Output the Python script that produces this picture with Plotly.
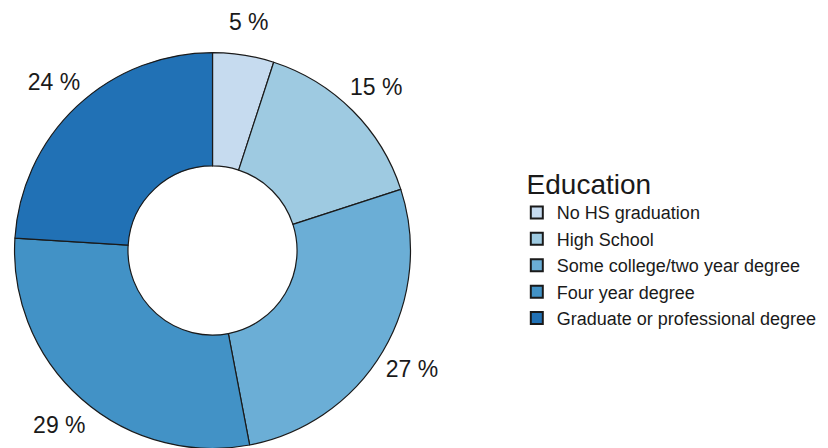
import numpy as np
import plotly.graph_objects as go

categories = ["No HS graduation", "High School", "Some college/two year degree",
              "Four year degree", "Graduate or professional degree"]
percent_values = [5, 15, 27, 29, 24]
slice_colors = ["#c6dbef", "#9ecae1", "#6baed6", "#4292c6", "#2171b5"]

FONT = "Liberation Sans, Arial, sans-serif"
W, H = 828, 448
DOMAIN_X = [0.0079, 0.4861]
DOMAIN_Y = [0.0167, 0.9007]
LABEL_RADIUS = 1.17   # label distance from centre, relative to outer radius
LABEL_DROP_PX = 3     # small downward nudge of the label frame

# donut
donut = go.Pie(
    labels=categories,
    values=percent_values,
    sort=False,
    direction="clockwise",
    rotation=0,
    hole=0.427,
    marker=dict(colors=slice_colors, line=dict(color="#1a1a1a", width=1.2)),
    textinfo="none",
    hoverinfo="label+percent",
    domain=dict(x=DOMAIN_X, y=DOMAIN_Y),
    showlegend=True,
)

# hidden cartesian frame whose unit equals the donut's outer radius, centred on the donut
cx = W * (DOMAIN_X[0] + DOMAIN_X[1]) / 2
cy_top = H * (1 - (DOMAIN_Y[0] + DOMAIN_Y[1]) / 2) + LABEL_DROP_PX
R = min(W * (DOMAIN_X[1] - DOMAIN_X[0]), H * (DOMAIN_Y[1] - DOMAIN_Y[0])) / 2
x_range = [-cx / R, (W - cx) / R]
y_range = [-(H - cy_top) / R, cy_top / R]

# percentage labels at each slice's mid-angle (clockwise from 12 o'clock)
vals = np.array(percent_values, dtype=float)
mid_angle = 2 * np.pi * (np.cumsum(vals) - vals / 2) / vals.sum()
labels_trace = go.Scatter(
    x=LABEL_RADIUS * np.sin(mid_angle),
    y=LABEL_RADIUS * np.cos(mid_angle),
    mode="text",
    text=[f"{v} %" for v in percent_values],
    textposition="middle center",
    textfont=dict(family=FONT, size=23, color="#1a1a1a"),
    cliponaxis=False,
    hoverinfo="skip",
    showlegend=False,
)

fig = go.Figure([donut, labels_trace])

fig.update_layout(
    width=W, height=H,
    margin=dict(l=0, r=0, t=0, b=0),
    paper_bgcolor="white",
    plot_bgcolor="rgba(0,0,0,0)",
    font=dict(family=FONT, color="#1a1a1a"),
    xaxis=dict(visible=False, range=x_range, domain=[0, 1], fixedrange=True),
    yaxis=dict(visible=False, range=y_range, domain=[0, 1], fixedrange=True),
    legend=dict(
        title=dict(text="\u00a0Education", font=dict(size=28)),
        font=dict(size=18),
        x=0.6145, xanchor="left",
        y=0.6655, yanchor="top",
        itemsizing="constant",
        tracegroupgap=0,
    ),
)

fig.write_html("out.html")
